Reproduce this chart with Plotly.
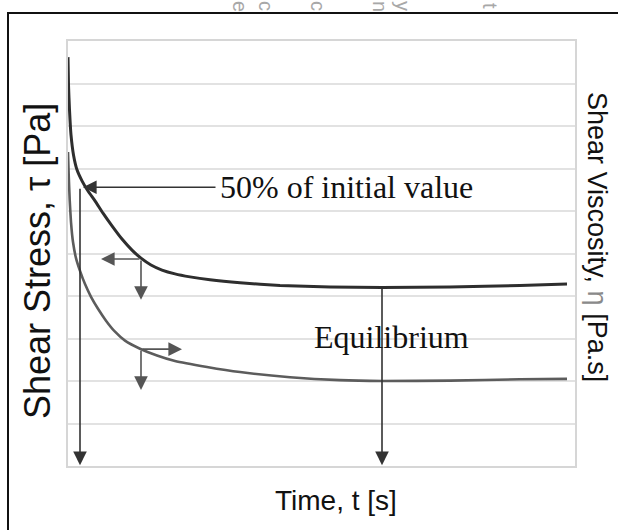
import plotly.graph_objects as go

# ---- data (time in arbitrary units, values in arbitrary units) ----
time_stress = [0, 0.5, 1.5, 3, 5.5, 9, 14, 20, 27, 35, 44, 54, 64, 73, 83, 94, 107, 122, 142, 172, 212, 262, 314, 382, 452, 499]
shear_stress = [9.62, 8.97, 8.38, 7.79, 7.32, 6.97, 6.71, 6.47, 6.24, 5.95, 5.65, 5.34, 5.08, 4.89, 4.73, 4.61, 4.52, 4.45,
                4.38, 4.31, 4.25, 4.21, 4.20, 4.21, 4.25, 4.28]

time_visc = [0, 0.7, 1.7, 3, 5, 8, 12, 17, 23, 30, 38, 47, 57, 72, 89, 107, 139, 172, 222, 272, 314, 382, 452, 499]
shear_visc = [7.39, 6.85, 6.26, 5.74, 5.27, 4.89, 4.59, 4.28, 3.98, 3.70, 3.42, 3.16, 2.95, 2.76, 2.60, 2.47, 2.33, 2.21,
              2.09, 2.02, 2.00, 2.01, 2.04, 2.05]

# annotation anchor points (time, value)
half_point = (15, 6.56)
half_text_start = 149
half_drop_x = 12
equil_point = (314, 4.20)
stress_marker = (73, 4.87)
stress_marker_left = 33
stress_marker_down = 3.91
visc_marker = (73, 2.75)
visc_marker_right = 114
visc_marker_down = 1.79
axis_floor = 0.02

label_half = "50% of initial value"
label_equil = "Equilibrium"
title_x = "Time, t [s]"
title_y1 = "Shear Stress, τ [Pa]"
title_y2 = "Shear Viscosity, <span style='color:#8a8a8a'>η</span> [Pa.s]"
remnant_letters = ["e", "c", "c", "n", "y", "t"]

W, H = 618, 530
PL, PT, PW, PH = 68, 41, 507, 425

def paper_x(px):
    return (px - PL) / PW

def paper_y(py):
    return (PT + PH - py) / PH

fig = go.Figure()
fig.add_trace(go.Scatter(x=time_stress, y=shear_stress, mode="lines",
                         line=dict(color="#2e2e2e", width=3, shape="spline", smoothing=0.5),
                         showlegend=False, hoverinfo="skip"))
fig.add_trace(go.Scatter(x=time_visc, y=shear_visc, mode="lines", yaxis="y2",
                         line=dict(color="#5c5c5c", width=2.6, shape="spline", smoothing=0.5),
                         showlegend=False, hoverinfo="skip"))

def arrow(x, y, ax, ay, color="#444"):
    fig.add_annotation(x=x, y=y, ax=ax, ay=ay, xref="x", yref="y", axref="x", ayref="y",
                       text="", showarrow=True, arrowhead=2, arrowsize=1.7, arrowwidth=1.6,
                       arrowcolor=color)

# 50% arrow and drop line
arrow(half_point[0], half_point[1], half_text_start, half_point[1], color="#333")
arrow(half_drop_x, axis_floor, half_drop_x, half_point[1], color="#333")
# equilibrium drop
arrow(equil_point[0], axis_floor, equil_point[0], equil_point[1], color="#333")
# small markers
arrow(stress_marker_left, stress_marker[1], stress_marker[0], stress_marker[1], color="#555")
arrow(stress_marker[0], stress_marker_down, stress_marker[0], stress_marker[1], color="#555")
arrow(visc_marker_right, visc_marker[1], visc_marker[0], visc_marker[1], color="#555")
arrow(visc_marker[0], visc_marker_down, visc_marker[0], visc_marker[1], color="#555")

serif = dict(family="Liberation Serif, Times New Roman, serif", size=32, color="#111")
fig.add_annotation(x=half_text_start + 1, y=half_point[1], xref="x", yref="y", text=label_half,
                   showarrow=False, xanchor="left", yanchor="middle", font=serif)
fig.add_annotation(x=244, y=3.03, xref="x", yref="y", text=label_equil,
                   showarrow=False, xanchor="left", yanchor="middle", font=serif)

sans = "Liberation Sans, Arial, sans-serif"
fig.add_annotation(x=paper_x(37), y=paper_y(261), xref="paper", yref="paper", text=title_y1, textangle=-90,
                   xanchor="center", yanchor="middle",
                   showarrow=False, font=dict(family=sans, size=36, color="#111"))
fig.add_annotation(x=paper_x(597), y=paper_y(237), xref="paper", yref="paper", text=title_y2, textangle=90,
                   xanchor="center", yanchor="middle",
                   showarrow=False, font=dict(family=sans, size=27, color="#111"))
fig.add_annotation(x=paper_x(336), y=paper_y(500), xref="paper", yref="paper", text=title_x,
                   xanchor="center", yanchor="middle",
                   showarrow=False, font=dict(family="Liberation Sans Narrow, Liberation Sans, sans-serif", size=28, color="#111"))

# faint remnants of text above the frame
for ch, px in zip(remnant_letters, [240, 266, 318, 380, 403, 490]):
    fig.add_annotation(x=paper_x(px), y=paper_y(6), xref="paper", yref="paper", text=ch, textangle=90,
                       xanchor="center", yanchor="middle",
                       showarrow=False, font=dict(family=sans, size=20, color="#a8a8a8"))

# outer frame
fig.add_shape(type="rect", xref="paper", yref="paper", x0=paper_x(8), y0=paper_y(560), x1=paper_x(640), y1=paper_y(13),
              line=dict(color="#111", width=2), fillcolor="rgba(0,0,0,0)", layer="above")

axis_common = dict(showticklabels=False, ticks="", zeroline=False)
fig.update_layout(
    width=W, height=H,
    margin=dict(l=PL, r=W - PL - PW, t=PT, b=H - PT - PH, autoexpand=False),
    paper_bgcolor="white", plot_bgcolor="white",
    xaxis=dict(range=[0, 507], showgrid=False, showline=True, mirror=True,
               linecolor="#d6d6d6", linewidth=1.5, **axis_common),
    yaxis=dict(range=[0, 10], dtick=1, showgrid=True, gridcolor="#e2e2e2", gridwidth=1.5,
               showline=True, mirror=True, linecolor="#d6d6d6", linewidth=1.5, **axis_common),
    yaxis2=dict(range=[0, 10], overlaying="y", side="right", showgrid=False, **axis_common),
    showlegend=False,
)

fig.write_html("out.html", config={"displayModeBar": False},
               post_script="document.body.style.margin='0px';document.body.style.overflow='hidden';")
